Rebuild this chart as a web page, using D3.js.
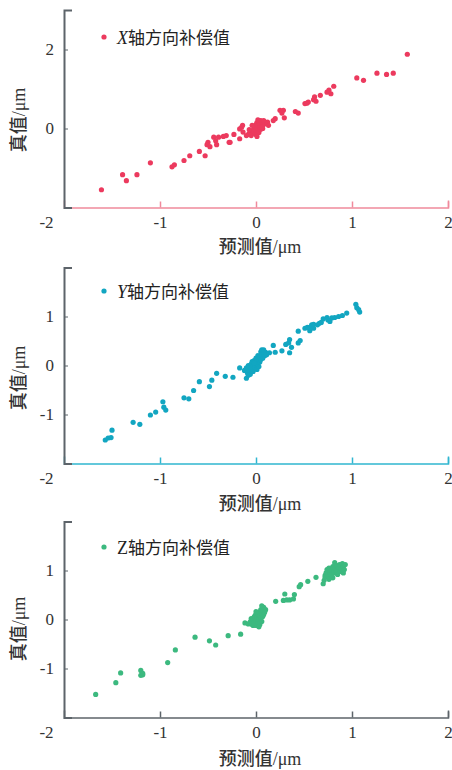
<!DOCTYPE html>
<html>
<head>
<meta charset="utf-8">
<script src="https://cdn.jsdelivr.net/npm/d3@7"></script>
<style>
  body { margin: 0; background: #fff; }
  .axisLabel { font-family: "Noto Sans CJK SC", sans-serif; font-size: 18px; font-weight: 500; fill: #333; }
  .legend { font-family: "Noto Sans CJK SC", sans-serif; font-size: 17px; fill: #222; }
</style>
</head>
<body>
<div id="chart"></div>
<script>
  var width = 452;
  var height = 770;

  // predicted vs true, X axis compensation
  var xPoints = [
    [-1.61,-1.55],[-1.39,-1.17],[-1.35,-1.32],[-1.24,-1.17],[-1.10,-0.87],[-0.875,-0.97],[-0.85,-0.92],
    [-0.75,-0.81],[-0.69,-0.69],[-0.59,-0.58],[-0.53,-0.69],[-0.50,-0.35],[-0.51,-0.41],[-0.48,-0.46],
    [-0.44,-0.22],[-0.42,-0.31],[-0.39,-0.22],[-0.34,-0.20],[-0.31,-0.18],[-0.41,-0.41],[-0.28,-0.35],
    [-0.23,-0.15],[-0.17,-0.26],[-0.15,0.03],[-0.135,-0.09],[-0.14,0.08],[-0.17,-0.01],[-0.10,-0.18],[-0.27,-0.35],
    [-0.08,-0.15],[-0.06,-0.1],[-0.05,-0.18],[-0.04,-0.05],[-0.03,-0.12],[-0.02,0.0],[-0.02,-0.08],[-0.01,0.05],
    [0,-0.15],[0,0.1],[0,-0.03],[0.01,0.15],[0.01,0.02],[0.02,-0.06],[0.02,0.08],[0.03,0.18],[0.03,-0.1],
    [0.04,0.05],[0.04,0.12],[0.05,-0.02],[0.05,0.2],[0.06,0.08],[0.07,0.15],[0.07,0.0],[0.08,0.1],
    [-0.07,-0.03],[0.01,-0.2],[0.02,0.22],[-0.04,0.08],[0.06,0.03],
    [0.12,0.16],[0.13,0.08],[0.09,0.16],[0.08,0.20],[0.20,0.25],[0.18,0.20],
    [0.25,0.46],[0.285,0.46],[0.27,0.39],[0.295,0.27],[0.41,0.43],[0.44,0.39],
    [0.545,0.67],[0.51,0.63],[0.53,0.64],[0.61,0.80],[0.625,0.69],[0.60,0.73],[0.67,0.84],
    [0.76,0.97],[0.74,0.92],[0.78,0.88],[0.81,1.07],
    [1.05,1.28],[1.12,1.22],[1.26,1.40],[1.36,1.37],[1.43,1.40],[1.576,1.88]
  ];

  // Y axis compensation
  var yPoints = [
    [-1.57,-1.52],[-1.54,-1.48],[-1.51,-1.47],[-1.50,-1.32],[-1.28,-1.16],[-1.21,-1.20],[-1.10,-1.01],
    [-1.045,-0.95],[-0.97,-0.74],[-0.96,-0.85],[-0.94,-0.91],[-0.75,-0.66],[-0.70,-0.68],[-0.65,-0.51],
    [-0.59,-0.33],[-0.485,-0.43],[-0.46,-0.30],[-0.41,-0.16],[-0.32,-0.22],[-0.24,-0.24],[-0.10,-0.26],[-0.17,-0.05],
    [-0.12,-0.1],[-0.1,-0.05],[-0.09,-0.15],[-0.08,0.0],[-0.07,-0.1],[-0.06,-0.18],[-0.05,0.03],[-0.05,-0.06],
    [-0.04,0.08],[-0.03,-0.12],[-0.03,0.0],[-0.02,0.1],[-0.01,-0.04],[0,0.05],[0,0.15],[0.01,-0.08],[0.01,0.1],
    [0.02,0.2],[0.02,0.02],[0.03,0.12],[0.03,-0.02],[0.04,0.18],[0.04,0.07],[0.05,0.28],[0.05,0.12],[0.06,0.22],
    [0.06,0.32],[0.07,0.15],[0.08,0.25],[0.09,0.2],[0.1,0.27],[0.11,0.22],[-0.08,-0.2],[-0.02,0.05],
    [0.08,0.32],[0.14,0.26],[0.18,0.41],[0.20,0.27],[0.27,0.30],[0.31,0.43],[0.35,0.26],[0.34,0.46],[0.35,0.53],
    [0.37,0.37],[0.44,0.46],[0.46,0.51],[0.44,0.70],[0.56,0.71],[0.60,0.76],[0.51,0.76],[0.535,0.78],[0.56,0.78],
    [0.58,0.83],[0.60,0.84],[0.64,0.83],[0.66,0.86],[0.68,0.88],[0.70,0.95],[0.74,0.98],[0.75,0.93],[0.77,0.90],
    [0.79,0.97],[0.82,0.98],[0.86,1.0],[0.90,1.02],[0.945,1.07],[1.04,1.25],[1.05,1.18],[1.08,1.09],[1.07,1.14]
  ];

  // Z axis compensation
  var zPoints = [
    [-1.67,-1.53],[-1.46,-1.29],[-1.41,-1.09],[-1.20,-1.04],[-1.18,-1.13],[-1.20,-1.14],[-1.18,-1.10],
    [-0.92,-0.88],[-0.84,-0.62],[-0.635,-0.36],[-0.485,-0.435],[-0.42,-0.52],[-0.29,-0.33],[-0.16,-0.30],
    [-0.115,-0.07],[-0.08,-0.09],[-0.045,-0.07],[-0.03,-0.12],[0.0,-0.12],
    [-0.06,-0.05],[-0.05,0.02],[-0.04,-0.1],[-0.03,0.0],[-0.02,0.05],[-0.02,-0.06],[-0.01,0.08],[0,-0.02],
    [0,0.1],[0.01,-0.12],[0.01,0.04],[0.02,0.12],[0.02,-0.05],[0.03,0.0],[0.03,0.15],[0.04,0.08],[0.04,-0.1],
    [0.05,0.2],[0.05,0.03],[0.06,0.12],[0.06,-0.04],[0.07,0.18],[0.07,0.06],[0.08,0.25],[0.08,0.1],[0.09,0.15],
    [0.03,-0.15],[0.06,0.28],[0.1,0.2],[0.0,0.16],
    [0.205,0.37],[0.30,0.52],[0.285,0.39],[0.32,0.40],[0.35,0.40],[0.39,0.42],[0.40,0.51],[0.45,0.67],
    [0.465,0.71],[0.54,0.78],[0.625,0.86],[0.70,0.73],[0.71,0.80],[0.72,0.86],
    [0.72,0.9],[0.73,0.95],[0.74,1.02],[0.75,0.88],[0.76,1.05],[0.77,0.96],[0.78,0.92],[0.79,1.0],[0.8,1.08],
    [0.8,0.85],[0.81,0.98],[0.82,1.16],[0.82,1.03],[0.83,0.95],[0.84,1.1],[0.84,1.0],[0.85,0.92],[0.86,1.06],
    [0.87,1.12],[0.88,0.98],[0.89,1.04],[0.9,1.14],[0.91,0.95],[0.91,1.08],[0.92,1.02],[0.93,1.12],[0.76,0.82],[0.79,0.9]
  ];

  var xTicks = [-2, -1, 0, 1, 2];
  var axisLetters = ["X", "Y", "Z"];
  var legendSuffix = "轴方向补偿值";

  var svg = d3.select("#chart")
    .append("svg")
    .attr("width", width)
    .attr("height", height);

  var panels = [
    {data: xPoints, top: 10, bottom: 207.5, yDomain: [-2, 3], yTicks: [0, 2], color: "#ec3a5e", xAxisColor: "#f08a9c",
     legendY: 44, xLabelY: 253, yLabelY: 120},
    {data: yPoints, top: 267.5, bottom: 463.5, yDomain: [-2, 2], yTicks: [-1, 0, 1], color: "#12a6c1", xAxisColor: "#30b6d0",
     legendY: 298, xLabelY: 510, yLabelY: 378},
    {data: zPoints, top: 521.5, bottom: 717.5, yDomain: [-2, 2], yTicks: [-1, 0, 1], color: "#3cb97f", xAxisColor: "#5d646a",
     legendY: 554, xLabelY: 765, yLabelY: 629}
  ];

  var left = 64, right = 448;
  var fmt = function(d) { return String(d); };

  panels.forEach(function(p, i) {
    var g = svg.append("g");

    var xScale = d3.scaleLinear()
      .domain([-2, 2])
      .range([left, right]);

    var yScale = d3.scaleLinear()
      .domain(p.yDomain)
      .range([p.bottom, p.top]);

    // x axis
    var xAxis = g.append("g")
      .attr("transform", `translate(0,${p.bottom})`)
      .call(d3.axisBottom(xScale).tickValues(xTicks).tickFormat(fmt)
        .tickSize(-6).tickSizeOuter(-7).tickPadding(8));
    xAxis.attr("font-family", "Liberation Serif, serif").attr("font-size", 17);
    xAxis.selectAll("path, line").attr("stroke", p.xAxisColor).attr("stroke-width", 1.5);
    xAxis.selectAll(".tick text").attr("fill", "#333")
      .attr("dx", function(d) { return d === -2 ? -18 : 0; });
    xAxis.selectAll(".tick").filter(function(d) { return d === -2; }).select("line").remove();

    // y axis
    var yAxis = g.append("g")
      .attr("transform", `translate(${left},0)`)
      .call(d3.axisLeft(yScale).tickValues(p.yTicks).tickFormat(fmt)
        .tickSize(-4).tickSizeOuter(-8).tickPadding(10));
    yAxis.attr("font-family", "Liberation Serif, serif").attr("font-size", 17);
    yAxis.selectAll("path").attr("stroke", "#5d646a").attr("stroke-width", 2);
    yAxis.selectAll("line").attr("stroke", "#5d646a").attr("stroke-width", 1);
    yAxis.selectAll(".tick text").attr("fill", "#333");

    // points
    g.selectAll("circle.pt")
      .data(p.data)
      .enter()
      .append("circle")
        .attr("class", "pt")
        .attr("cx", function(d) { return xScale(d[0]); })
        .attr("cy", function(d) { return yScale(d[1]); })
        .attr("r", 2.6)
        .attr("fill", p.color);

    // legend
    g.append("circle")
      .attr("cx", 104)
      .attr("cy", p.legendY - 7)
      .attr("r", 2.6)
      .attr("fill", p.color);
    var lt = g.append("text")
      .attr("class", "legend")
      .attr("x", 117)
      .attr("y", p.legendY);
    lt.append("tspan")
      .attr("font-family", "Liberation Serif, serif")
      .attr("font-style", i < 2 ? "italic" : "normal")
      .attr("font-size", 18)
      .text(axisLetters[i]);
    lt.append("tspan").text(legendSuffix);

    // axis labels
    var xl = g.append("text")
      .attr("class", "axisLabel")
      .attr("x", 260)
      .attr("y", p.xLabelY)
      .attr("text-anchor", "middle");
    xl.append("tspan").text("预测值");
    xl.append("tspan").attr("font-family", "Liberation Serif, serif").attr("font-weight", "normal").text("/μm");

    var yl = g.append("text")
      .attr("class", "axisLabel")
      .attr("transform", `translate(25,${p.yLabelY}) rotate(-90)`)
      .attr("text-anchor", "middle");
    yl.append("tspan").text("真值");
    yl.append("tspan").attr("font-family", "Liberation Serif, serif").attr("font-weight", "normal").text("/μm");
  });
</script>
</body>
</html>
